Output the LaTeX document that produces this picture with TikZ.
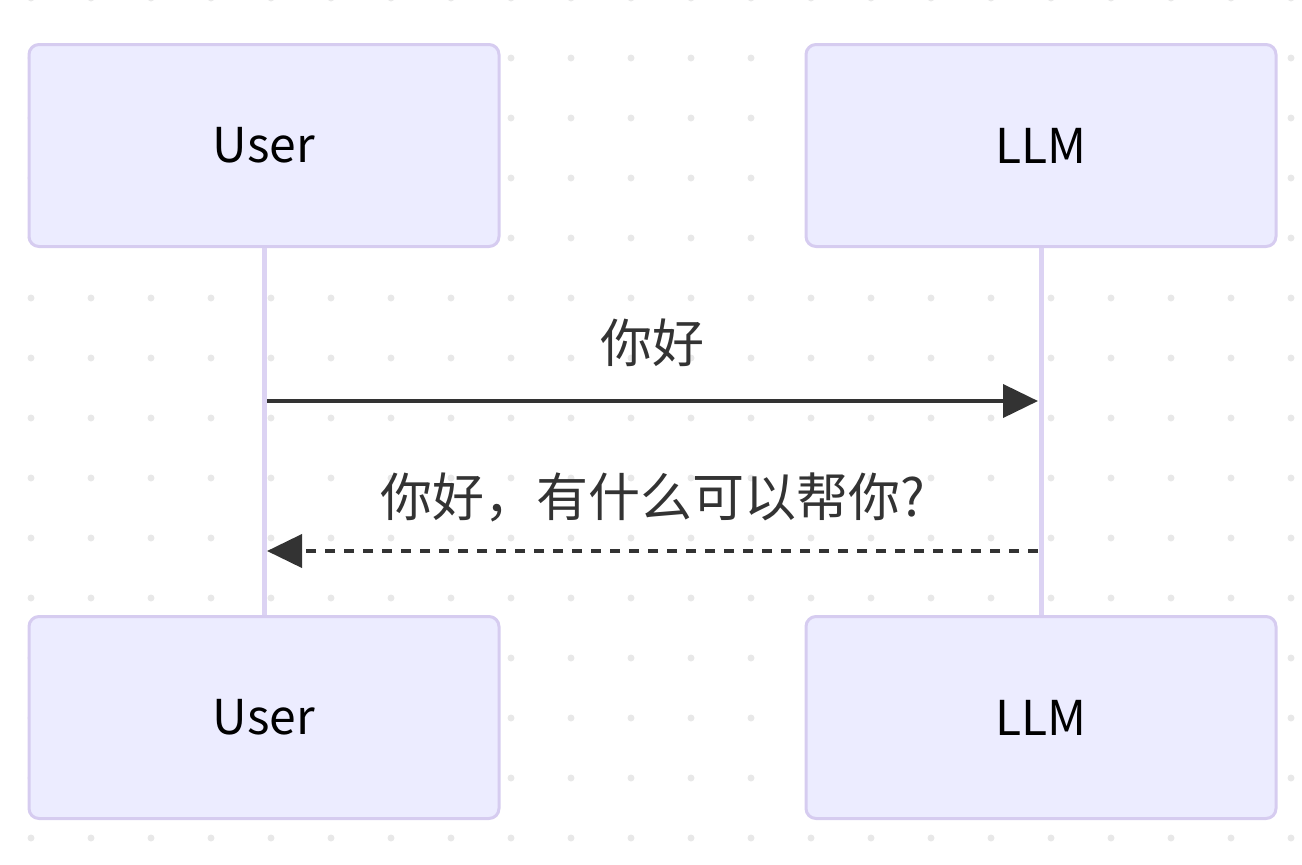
\documentclass[tikz,border=0pt]{standalone}
\usepackage{fontspec}
\setmainfont{Noto Sans CJK SC}
\usetikzlibrary{positioning,arrows.meta}
\definecolor{actfill}{HTML}{ECECFF}
\definecolor{actline}{HTML}{D6CCF0}
\definecolor{lifecol}{HTML}{DCD3F3}
\definecolor{msgcol}{HTML}{333333}
\definecolor{dotcol}{HTML}{E8E8E8}

\begin{document}
\begin{tikzpicture}[x=0.5pt,y=-0.5pt,
		actor/.style={draw=actline,fill=actfill,line width=1.5pt,rounded corners=5pt,
			minimum width=235pt,minimum height=101pt,text=black,font=\fontsize{24}{28}\selectfont},
		life/.style={draw=lifecol,line width=2.5pt},
		msg/.style={draw=msgcol,line width=2pt,-{Triangle[length=17.5pt,width=16.5pt]}},
		msgtext/.style={text=msgcol,font=\fontsize{26}{30}\selectfont}]
		\useasboundingbox (0,0) rectangle (1302,864);
		% dotted background
		\foreach \i in {0,...,21}
			\foreach \j in {0,...,14}
				\fill[dotcol] (31+60*\i,-2+60*\j) circle (1.75pt);
		% actors
		\node[actor] (usrtop) at (264,145.5) {User};
		\node[actor] (llmtop) [right=152pt of usrtop] {LLM};
		\node[actor] (usrbot) [below=183.5pt of usrtop] {User};
		\node[actor] (llmbot) [below=183.5pt of llmtop] {LLM};
		\draw[life] (usrtop) -- (usrbot);
		\draw[life] (llmtop) -- (llmbot);
		% messages
		\coordinate (m1a) at (267,401);
		\coordinate (m1b) at (1038,401);
		\coordinate (m2a) at (1038,551);
		\coordinate (m2b) at (267,551);
		\draw[msg] (m1a) -- node[midway,yshift=29pt,msgtext] (hello) {你好} (m1b);
		\draw[msg,dash pattern=on 5pt off 4.5pt] (m2a) -- node[midway,yshift=27pt,msgtext] (reply) {你好，有什么可以帮你?} (m2b);
\end{tikzpicture}
\end{document}
